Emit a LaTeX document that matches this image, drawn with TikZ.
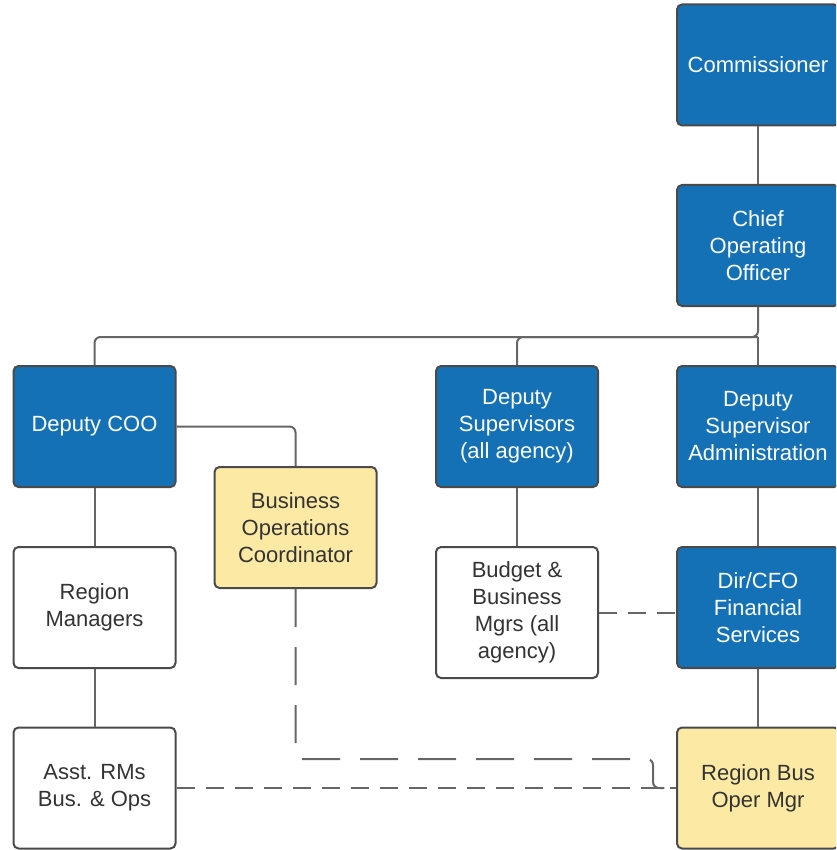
\documentclass[tikz,border=0pt]{standalone}
\usepackage{fontspec}
\setmainfont{Liberation Sans}
\definecolor{orgblue}{HTML}{1571B6}
\definecolor{orgyellow}{HTML}{FCE9A4}
\definecolor{edgegray}{HTML}{4A4A4A}
\definecolor{linkgray}{HTML}{666666}
\definecolor{inktext}{HTML}{333333}
\tikzset{
  box/.style={draw=edgegray, line width=2pt, rounded corners=5pt,
    minimum width=162pt, minimum height=121pt, inner sep=0pt, align=center,
    font=\fontsize{22}{27}\selectfont},
  bluebox/.style={box, fill=orgblue, text=white},
  whitebox/.style={box, fill=white, text=inktext},
  yellowbox/.style={box, fill=orgyellow, text=inktext},
  link/.style={draw=linkgray, line width=2pt},
  shortdash/.style={link, dash pattern=on 18pt off 11pt},
  longdash/.style={link, dash pattern=on 38pt off 20pt},
}
\begin{document}
\begin{tikzpicture}[x=1pt,y=-1pt]
  \useasboundingbox (0,0) rectangle (836,850);
  \clip (0,0) rectangle (836,850);

  % boxes
  \node[bluebox] (comm) at (758,65) {Commissioner};
  \node[bluebox] (coo) at (758,245.5) {Chief\\Operating\\Officer};
  \node[bluebox] (dcoo) at (94.5,426.5) {Deputy COO};
  \node[bluebox] (dsup) at (517,426.5) {Deputy\\Supervisors\\(all agency)};
  \node[bluebox] (dsadm) at (758,426.5) {Deputy\\Supervisor\\Administration};
  \node[yellowbox] (boc) at (295.5,527.5) {Business\\Operations\\Coordinator};
  \node[whitebox] (rm) at (94.5,607.5) {Region\\Managers};
  \node[whitebox, minimum height=131pt] (bbm) at (517,612.5) {Budget \&\\Business\\Mgrs (all\\agency)};
  \node[bluebox] (cfo) at (758,607.5) {Dir/CFO\\Financial\\Services};
  \node[whitebox] (arm) at (94.5,788) {Asst. RMs\\Bus. \& Ops};
  \node[yellowbox] (rbom) at (758,788) {Region Bus\\Oper Mgr};

  % junction points
  \coordinate (bus) at (758,337);
  \coordinate (jog) at (653,759);

  % solid reporting lines
  \draw[link] (comm.south) -- (coo.north);
  \draw[link, rounded corners=6pt] (coo.south) -- (bus) -| (dcoo.north);
  \draw[link, rounded corners=6pt] (bus) -| (dsup.north);
  \draw[link] (bus) -- (dsadm.north);
  \draw[link, rounded corners=6pt] (dcoo.east) -| (boc.north);
  \draw[link] (dcoo.south) -- (rm.north);
  \draw[link] (rm.south) -- (arm.north);
  \draw[link] (dsup.south) -- (bbm.north);
  \draw[link] (dsadm.south) -- (cfo.north);
  \draw[link] (cfo.south) -- (rbom.north);

  % dotted-line relationships
  \draw[shortdash] (bbm.east) -- (bbm.east -| cfo.west);
  \draw[shortdash] (arm.east) -- (rbom.west);
  \draw[longdash, rounded corners=6pt] (boc.south) |- (jog) |- (rbom.west);
\end{tikzpicture}
\end{document}
